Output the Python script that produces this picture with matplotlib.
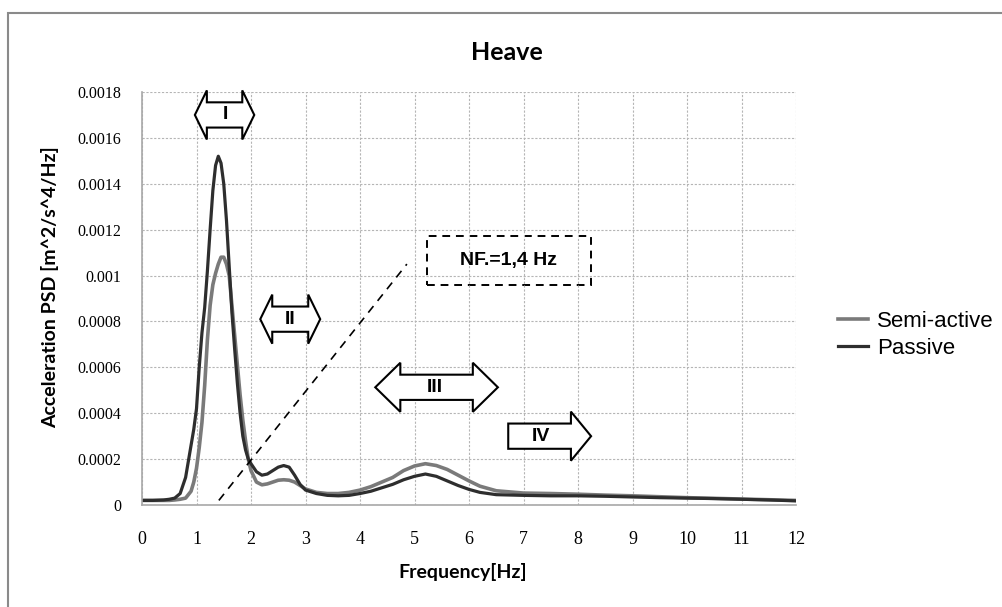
import numpy as np
import matplotlib
matplotlib.use("Agg")
import matplotlib.pyplot as plt
from matplotlib.patches import Polygon, Rectangle

# frequency points [Hz]
freq = [0.0, 0.2, 0.4, 0.5, 0.6, 0.7, 0.8, 0.9,
        0.95, 1.0, 1.05, 1.1, 1.15, 1.2, 1.25, 1.3, 1.35, 1.4, 1.45, 1.5,
        1.55, 1.6, 1.65, 1.7, 1.75, 1.8, 1.85, 1.9, 1.95, 2.0,
        2.1, 2.2, 2.3, 2.4, 2.5, 2.6, 2.7, 2.8, 2.9,
        3.0, 3.2, 3.4, 3.6, 3.8, 4.0, 4.2, 4.4, 4.6, 4.8, 5.0, 5.2, 5.4, 5.6,
        5.8, 6.0, 6.2, 6.5, 7.0, 7.5, 8.0, 8.5, 9.0, 9.5, 10.0, 10.5, 11.0,
        11.5, 12.0]

semi_active = [0.00002, 0.00002, 0.00002, 0.00002, 0.000022, 0.000025, 0.00003,
               0.00006,
               0.0001, 0.00016, 0.00025, 0.00036, 0.00052, 0.00072, 0.00087,
               0.00096, 0.00101, 0.00105, 0.00108, 0.00108, 0.00105, 0.001,
               0.00087, 0.00074, 0.00061, 0.00048, 0.00037, 0.00028, 0.0002,
               0.00015,
               0.0001, 0.000088, 0.000092, 0.0001, 0.000108, 0.00011, 0.000108,
               0.0001, 0.000085,
               0.00007, 0.000055, 0.00005, 0.00005, 0.000055, 0.000065, 0.00008,
               0.0001, 0.00012, 0.00015, 0.00017, 0.00018, 0.000172, 0.000155,
               0.00013, 0.000105, 0.000082, 0.000062, 0.000052, 0.00005,
               0.000047, 0.000043, 0.00004, 0.000036, 0.000032, 0.000029,
               0.000026, 0.000023, 0.00002]

passive = [0.00002, 0.00002, 0.000022, 0.000025, 0.00003, 0.00005, 0.00012,
           0.00026,
           0.00033, 0.00042, 0.0006, 0.00075, 0.00086, 0.00102, 0.0012,
           0.00137, 0.00148, 0.00152, 0.00149, 0.0014, 0.00124, 0.00104,
           0.00084, 0.00068, 0.00053, 0.0004, 0.0003, 0.00024, 0.0002,
           0.00018,
           0.000145, 0.00013, 0.000135, 0.00015, 0.000165, 0.000172, 0.000165,
           0.00013, 0.00009,
           0.000065, 0.00005, 0.000042, 0.00004, 0.000042, 0.00005, 0.00006,
           0.000075, 0.00009, 0.00011, 0.000125, 0.000135, 0.000125, 0.000105,
           0.000085, 0.000068, 0.000055, 0.000045, 0.000042, 0.00004, 0.00004,
           0.000038, 0.000035, 0.000032, 0.00003, 0.000028, 0.000025,
           0.000022, 0.000018]

xticks = list(range(0, 13))
yticks = [0, 0.0002, 0.0004, 0.0006, 0.0008, 0.001, 0.0012, 0.0014, 0.0016, 0.0018]
ytick_labels = ['0', '0.0002', '0.0004', '0.0006', '0.0008', '0.001',
                '0.0012', '0.0014', '0.0016', '0.0018']

# region arrows: left x, right x, y centre, head length, label, label x, double
arrows = [
    (0.97, 2.06, 0.0017, 0.22, 'I', 1.53, True),
    (2.17, 3.27, 0.00081, 0.22, 'II', 2.72, True),
    (4.28, 6.53, 0.000513, 0.46, 'III', 5.38, True),
    (6.72, 8.24, 0.0003, 0.37, 'IV', 7.32, False),
]

W, H = 1002, 607
fig = plt.figure(figsize=(W / 100, H / 100), dpi=100)
ax = fig.add_axes([142 / W, 1 - 505 / H, (796 - 142) / W, (505 - 92) / H])

# outer chart border
fig.patches.append(Rectangle((8 / W, -0.1), 1.2, 1 - 13 / H + 0.1,
                             transform=fig.transFigure, fill=False,
                             edgecolor='#8a8a8a', linewidth=1.5))

ax.plot(freq, semi_active, color='#7a7a7a', linewidth=2.6, label='Semi-active',
        solid_joinstyle='round')
ax.plot(freq, passive, color='#2e2e2e', linewidth=2.3, label='Passive',
        solid_joinstyle='round')

ax.set_xlim(0, 12)
ax.set_ylim(0, 0.0018)
ax.set_xticks(xticks)
ax.set_yticks(yticks)
ax.set_yticklabels(ytick_labels)
ax.tick_params(length=0)
ax.tick_params(axis='x', pad=19, labelsize=13)
ax.tick_params(axis='y', pad=15, labelsize=11.5)
for lab in ax.get_xticklabels() + ax.get_yticklabels():
    lab.set_family('Liberation Serif')

ax.grid(True, color='#b5b5b5', linestyle=(0, (2, 1.5)), linewidth=0.8)
for s in ['top', 'right']:
    ax.spines[s].set_visible(False)
for s in ['left', 'bottom']:
    ax.spines[s].set_color('#a8a8a8')
    ax.spines[s].set_linewidth(1.2)

# NF dashed guide line and box
ax.plot([1.41, 4.86], [0.00002, 0.00105], color='black', linewidth=1.2,
        linestyle=(0, (5, 4)))
ax.add_patch(Rectangle((5.23, 0.000957), 3.01, 0.000217, fill=False,
                       edgecolor='black', linewidth=1.4, linestyle=(0, (4, 3))))
ax.text(6.73, 0.001065, 'NF.=1,4 Hz', ha='center', va='center',
        fontsize=14, fontweight='bold', family='Liberation Sans')

shaft = 0.000055
head = 0.000107
for x0, x1, yc, hl, lab, lx, double in arrows:
    if double:
        pts = [(x0, yc), (x0 + hl, yc + head), (x0 + hl, yc + shaft),
               (x1 - hl, yc + shaft), (x1 - hl, yc + head), (x1, yc),
               (x1 - hl, yc - head), (x1 - hl, yc - shaft),
               (x0 + hl, yc - shaft), (x0 + hl, yc - head)]
    else:
        pts = [(x0, yc + shaft), (x1 - hl, yc + shaft), (x1 - hl, yc + head),
               (x1, yc), (x1 - hl, yc - head), (x1 - hl, yc - shaft),
               (x0, yc - shaft)]
    ax.add_patch(Polygon(pts, closed=True, facecolor='white', edgecolor='black',
                         linewidth=1.5, clip_on=False, zorder=5))
    ax.text(lx, yc, lab, ha='center', va='center', fontsize=14,
            fontweight='bold', family='Liberation Sans', zorder=6)

fig.text(507 / W, 1 - 53 / H, 'Heave', ha='center', va='center',
         fontsize=18, fontweight='bold', family='Lato')
fig.text(463 / W, 1 - 572 / H, 'Frequency[Hz]', ha='center', va='center',
         fontsize=14, fontweight='bold', family='Lato')
fig.text(50 / W, 1 - 287 / H, 'Acceleration PSD [m^2/s^4/Hz]', ha='center',
         va='center', rotation=90, fontsize=14, fontweight='bold', family='Lato')

fig.legend(loc='upper left', bbox_to_anchor=(838 / W, 1 - 311 / H),
           frameon=False, prop={'family': 'Liberation Sans', 'size': 16},
           handlelength=1.35, handletextpad=0.4, labelspacing=0.25,
           borderaxespad=0, borderpad=0)

fig.savefig('out.png', dpi=100)
